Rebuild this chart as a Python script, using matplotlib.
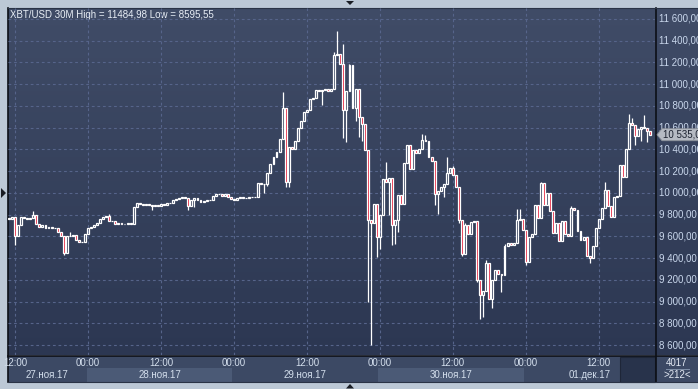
import numpy as np
import pandas as pd
import matplotlib
matplotlib.use("Agg")
import matplotlib.pyplot as plt
from matplotlib.patches import Polygon, Rectangle
from matplotlib.transforms import blended_transform_factory

# ---------------- data ----------------
title = "XBT/USD 30M High = 11484,98 Low = 8595,55"
start_time = "2017-11-27 11:00"
first_open = 9770
closes = [
    9760, 9780, 9600, 9700, 9780, 9770, 9760, 9770, 9800, 9710,
    9690, 9700, 9680, 9690, 9675, 9680, 9640, 9600, 9450, 9600,
    9605, 9615, 9570, 9545, 9550, 9620, 9680, 9690, 9700, 9720,
    9760, 9780, 9790, 9745, 9740, 9715, 9720, 9710, 9715, 9720,
    9715, 9870, 9910, 9900, 9890, 9900, 9890, 9880, 9890, 9880,
    9900, 9890, 9905, 9910, 9930, 9945, 9950, 9965, 9950, 9880,
    9930, 9950, 9930, 9920, 9925, 9930, 9935, 9970, 9985, 9990,
    9975, 9985, 9960, 9940, 9935, 9950, 9965, 9950, 9955, 9960,
    9962, 9965, 10090, 10085, 10080, 10180, 10270, 10330, 10380, 10500,
    10780, 10100, 10420, 10400, 10480, 10600, 10660, 10740, 10760, 10860,
    10870, 10950, 10940, 10950, 10960, 10940, 10955, 11270, 11275, 11190,
    10760, 10940, 11180, 10780, 10960, 10700, 10630, 10395, 9750, 9720,
    9900, 9590, 9800, 10130, 10100, 10140, 9700, 9750, 9980, 9900,
    10275, 10440, 10220, 10390, 10370, 10400, 10490, 10480, 10330, 10290,
    9990, 10020, 10050, 10080, 10180, 10230, 10160, 10055, 9750, 9440,
    9700, 9620, 9730, 9740, 9200, 9060, 9100, 9350, 9020, 9200,
    9290, 9250, 9240, 9510, 9540, 9520, 9540, 9750, 9760, 9660,
    9360, 9590, 9620, 9890, 9770, 10090, 9890, 10000, 9830, 9630,
    9720, 9560, 9740, 9620, 9600, 9860, 9840, 9650, 9570, 9590,
    9420, 9400, 9510, 9680, 9760, 9860, 10025, 9880, 9780, 9960,
    9970, 10255, 10150, 10400, 10645, 10620, 10520, 10590, 10610, 10600,
    10570, 10535,
]
high_marks = {
    8: 9830, 20: 9640, 33: 9810, 90: 10930, 107: 11300, 108: 11484.98,
    110: 11370, 112: 11190, 124: 10280, 136: 10540, 137: 10530, 144: 10330,
    146: 10250, 150: 9720, 157: 9380, 163: 9530, 167: 9850, 168: 9850,
    175: 10100, 185: 9880, 196: 10100, 204: 10730, 205: 10690, 209: 10720,
}
low_marks = {
    2: 9520, 18: 9430, 47: 9840, 59: 9840, 61: 9870, 84: 10000, 85: 10060,
    91: 10050, 92: 10050, 103: 10810, 110: 10505, 111: 10470, 114: 10660,
    115: 10515, 116: 10480, 118: 9000, 119: 8595.55, 121: 9410, 122: 9480,
    125: 9800, 126: 9520, 127: 9530, 128: 9640, 140: 9890, 141: 9810,
    143: 9960, 148: 9720, 149: 9420, 154: 9180, 155: 8840, 156: 8860,
    159: 8940, 162: 9090, 170: 9340, 191: 9350, 206: 10440, 208: 10480,
    210: 10470,
}
price_ticks = [8600, 8800, 9000, 9200, 9400, 9600, 9800, 10000,
               10200, 10400, 10600, 10800, 11000, 11200, 11400, 11600]
last_price = 10535.0
bar_count_label = "4017"
visible_label = ">212<"
month_names = {11: "ноя", 12: "дек"}

# ---------------- derived ----------------
n = len(closes)
opens = [first_open] + closes[:-1]
highs = [max(o, c) for o, c in zip(opens, closes)]
lows = [min(o, c) for o, c in zip(opens, closes)]
for k, v in high_marks.items():
    highs[k] = max(highs[k], v)
for k, v in low_marks.items():
    lows[k] = min(lows[k], v)
times = pd.date_range(start_time, periods=n, freq="30min")

W, H = 698, 389
fig = plt.figure(figsize=(W / 100, H / 100), dpi=100)
fig.patch.set_facecolor("#bcc8d6")

bg = fig.add_axes([0, 0, 1, 1])
bg.set_xlim(0, W)
bg.set_ylim(H, 0)
bg.axis("off")

# gradient background for plot + right scale
g = np.linspace(0, 1, 256).reshape(-1, 1, 1)
top_c = np.array([0x40, 0x4c, 0x67]) / 255
bot_c = np.array([0x2c, 0x37, 0x52]) / 255
img = top_c + (bot_c - top_c) * g
bg.imshow(img, extent=[8, W, 355, 8], aspect="auto", zorder=0,
          interpolation="bilinear")

# bottom time-axis area
bg.add_patch(Rectangle((8, 356), W - 8, 26, facecolor="#3c4964",
                       edgecolor="none", zorder=1))

L, R, T, B = 8, 655, 8, 355
ax = fig.add_axes([L / W, (H - B) / H, (R - L) / W, (B - T) / H])
ax.set_facecolor("none")
ax.axis("off")
x0 = (L - 9) / 3.04
x1 = (R - 9) / 3.04
ax.set_xlim(x0, x1)
ax.set_ylim(8508, 11701)

grid_c = "#56648a"
ax.hlines(price_ticks, x0, x1, colors=grid_c, lw=0.8,
          linestyles=(0, (2.5, 2.5)), zorder=1)

tick_idx = [i for i, t in enumerate(times) if t.minute == 0 and t.hour in (0, 12)]
ax.vlines(tick_idx, 8508, 11701, colors=grid_c, lw=0.8,
          linestyles=(0, (2.5, 2.5)), zorder=1)

# candles
bw = 0.64
lw = 0.9
for i in range(n):
    o, c, h, l = opens[i], closes[i], highs[i], lows[i]
    btm, tp = min(o, c), max(o, c)
    if h > tp:
        ax.vlines(i, tp, h, colors="white", lw=lw, zorder=2)
    if l < btm:
        ax.vlines(i, l, btm, colors="white", lw=lw, zorder=2)
    fc = "#e3132f" if c < o else "none"
    ax.add_patch(Rectangle((i - bw / 2, btm), bw, max(tp - btm, 4),
                           facecolor=fc, edgecolor="white", lw=lw, zorder=3))

# ---------------- frame lines ----------------
blk = "#0c0f16"
bg.plot([8, 8], [8, 382], color=blk, lw=1.2, zorder=5)
bg.plot([655.5, 655.5], [8, 382], color=blk, lw=1.2, zorder=5)
bg.plot([8, W], [355.5, 355.5], color=blk, lw=1.2, zorder=5)
bg.plot([8, W], [8, 8], color="#2a3346", lw=0.8, zorder=5)
bg.plot([8, W], [382, 382], color="#2a3346", lw=0.8, zorder=5)

# title
font = ["Liberation Sans", "DejaVu Sans"]
bg.text(10, 14.5, title, color="#e8eef6", fontsize=7, family=font,
        va="center", ha="left", zorder=6)

# right price scale
ytr = blended_transform_factory(bg.transData, ax.transData)
for p in price_ticks:
    lab = f"{p:,.2f}".replace(",", " ").replace(".", ",")
    bg.text(659, p, lab, transform=ytr, color="#c9d7ec", fontsize=7,
            family=font, va="center", ha="left", zorder=6)

# last price tag
yp = H - ax.transData.transform((0, last_price))[1]
tag = Polygon([(657, yp), (662, yp - 6), (W + 2, yp - 6), (W + 2, yp + 6),
               (662, yp + 6)], closed=True, facecolor="#b5bac3",
              edgecolor="#8b9099", lw=0.6, zorder=7)
bg.add_patch(tag)
tag_lab = f"{last_price:,.2f}".replace(",", " ").replace(".", ",")
bg.text(663, yp, tag_lab, color="#1c2230", fontsize=7, family=font,
        va="center", ha="left", zorder=8)

# bottom axis: day bands and labels
xtr = blended_transform_factory(ax.transData, bg.transData)
for k, d in enumerate(pd.date_range(times[0].normalize(), times[-1].normalize(), freq="D")):
    idx = [i for i, t in enumerate(times) if t.normalize() == d]
    ds = idx[0] - 0.5 if idx[0] > 0 else x0
    de = idx[-1] + 0.5 if idx[-1] < n - 1 else x1
    if k % 2 == 1:
        bg.add_patch(Rectangle((ds, 368), de - ds, 13.5, transform=xtr,
                               facecolor="#4b5a76", edgecolor="none", zorder=2))
    lab = f"{d.day:02d}.{month_names[d.month]}.{d.year % 100:02d}"
    bg.text((ds + de) / 2, 375, lab, transform=xtr, color="#d3deec",
            fontsize=7, family=font, ha="center", va="center", zorder=6)

for i in tick_idx:
    bg.text(i, 362.5, times[i].strftime("%H:%M"), transform=xtr,
            color="#d3deec", fontsize=7, family=font, ha="center",
            va="center", zorder=6)

# dark scroll box at bottom right of time axis
bg.add_patch(Rectangle((620, 356.5), 35, 25, facecolor="#28334b",
                       edgecolor="#1e2638", lw=0.8, zorder=4))
# counter box
bg.text(677, 362.5, bar_count_label, color="#e2e8f2", fontsize=7,
        family=font, ha="center", va="center", zorder=6)
bg.plot([666, 689], [369, 369], color="#8191a9", lw=0.7, zorder=6)
bg.text(677, 375.5, visible_label, color="#e2e8f2", fontsize=7,
        family=font, ha="center", va="center", zorder=6)

# small navigation triangles
tri_c = "#1a1d24"
bg.add_patch(Polygon([(346, 1), (354, 1), (350, 5)], closed=True,
                     facecolor=tri_c, edgecolor="none", zorder=6))
bg.add_patch(Polygon([(1, 188), (1, 198), (6, 193)], closed=True,
                     facecolor=tri_c, edgecolor="none", zorder=6))
bg.add_patch(Polygon([(346, 388.5), (354, 388.5), (350, 384)], closed=True,
                     facecolor=tri_c, edgecolor="none", zorder=6))

fig.savefig("out.png", dpi=100, facecolor=fig.get_facecolor())
